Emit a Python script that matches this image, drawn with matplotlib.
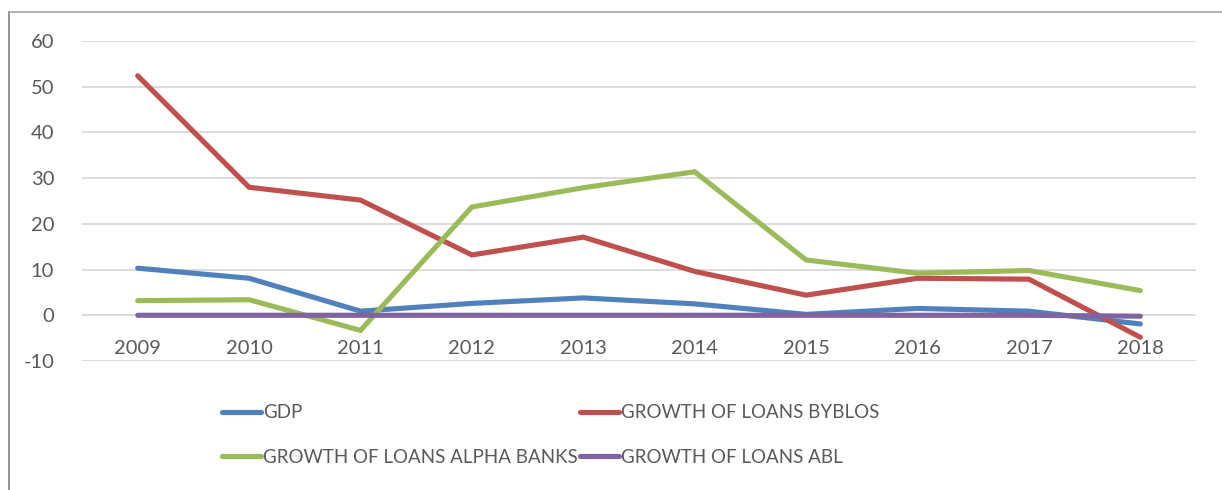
import matplotlib
matplotlib.use("Agg")
import matplotlib.pyplot as plt
from matplotlib.lines import Line2D

years = ["2009", "2010", "2011", "2012", "2013", "2014", "2015", "2016", "2017", "2018"]
gdp = [10.3, 8.1, 0.9, 2.6, 3.8, 2.5, 0.2, 1.5, 0.9, -1.9]
loans_byblos = [52.4, 28.0, 25.2, 13.2, 17.1, 9.6, 4.4, 8.1, 7.9, -4.8]
loans_alpha = [3.2, 3.4, -3.3, 23.7, 27.9, 31.4, 12.1, 9.2, 9.8, 5.4]
loans_abl = [0, 0, 0, 0, 0, 0, 0, 0, 0, -0.2]
yticks = [-10, 0, 10, 20, 30, 40, 50, 60]

series = [
    ("GDP", gdp, "#4F81BD"),
    ("GROWTH OF LOANS BYBLOS", loans_byblos, "#C0504D"),
    ("GROWTH OF LOANS ALPHA BANKS", loans_alpha, "#9BBB59"),
    ("GROWTH OF LOANS ABL", loans_abl, "#8064A2"),
]

plt.rcParams['font.family'] = ['Lato', 'DejaVu Sans']
txt = "#595959"

fig = plt.figure(figsize=(12.22, 4.90), dpi=100)
ax = fig.add_axes([82/1222, 1-361/490, (1196-82)/1222, (361-41)/490])

x = list(range(len(years)))
handles = []
for name, vals, col in series:
    ln, = ax.plot(x, vals, color=col, lw=3.7, solid_capstyle='round', solid_joinstyle='miter', label=name)
    handles.append(ln)

ax.set_xlim(-0.5, len(years) - 0.5)
ax.set_ylim(-10, 60)
ax.set_yticks(yticks)
ax.set_yticklabels([str(v) for v in yticks], color=txt, fontsize=14.5)
ax.tick_params(axis='y', length=0, pad=20)
ax.set_xticks([])
for s in ax.spines.values():
    s.set_visible(False)
ax.grid(axis='y', color='#D9D9D9', lw=1.3)
ax.set_axisbelow(True)

for i, yr in enumerate(years):
    ax.annotate(yr, xy=(i, 0), xytext=(0, -24), textcoords='offset points',
                ha='center', va='center', color=txt, fontsize=14.5)

# column-wise fill: col1 = GDP, ALPHA ; col2 = BYBLOS, ABL
fig.legend(handles=[handles[0], handles[2], handles[1], handles[3]], ncol=2,
           loc='center left', bbox_to_anchor=(205/1222, 1-435/490), frameon=False,
           fontsize=13.5, labelcolor=txt, handlelength=2.1, handletextpad=0.1,
           columnspacing=0.1, labelspacing=1.45)

# chart border
fig.add_artist(Line2D([9/1222, 9/1222], [0, 1-12/490], transform=fig.transFigure, color='#7F7F7F', lw=1.2))
fig.add_artist(Line2D([9/1222, 1], [1-12/490, 1-12/490], transform=fig.transFigure, color='#A6A6A6', lw=1.2))

fig.savefig("out.png", dpi=100)
